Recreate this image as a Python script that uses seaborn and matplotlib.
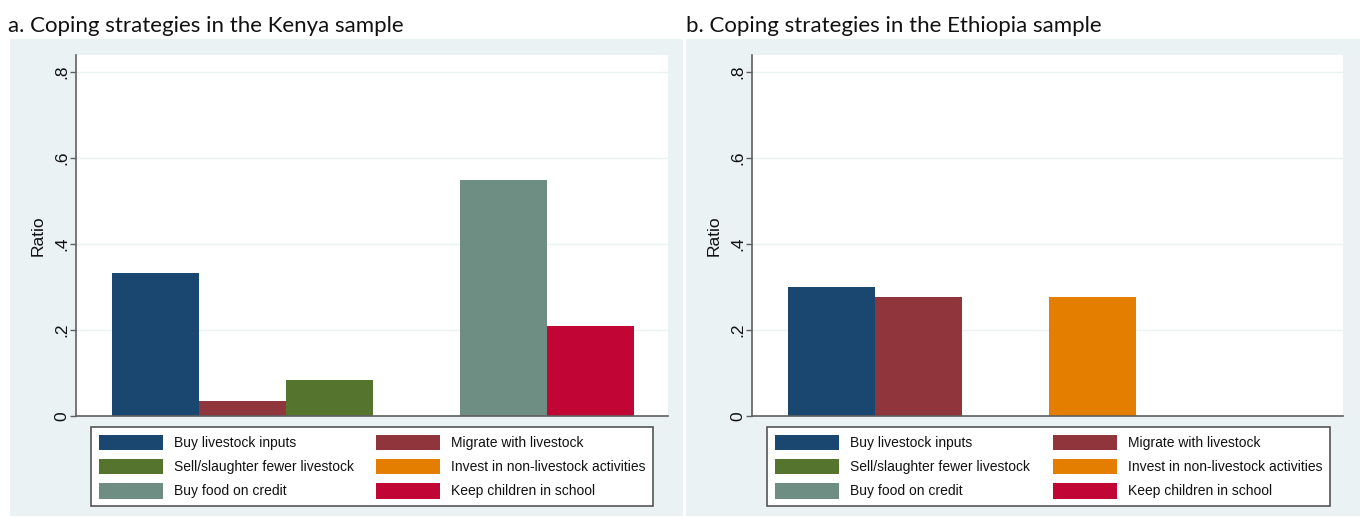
import matplotlib
matplotlib.use("Agg")
import matplotlib.pyplot as plt
from matplotlib.patches import Rectangle, Patch
import seaborn as sns
import pandas as pd

# ---------------- data ----------------
strategies = [
    "Buy livestock inputs",
    "Migrate with livestock",
    "Sell/slaughter fewer livestock",
    "Invest in non-livestock activities",
    "Buy food on credit",
    "Keep children in school",
]
kenya_ratio = [0.333, 0.035, 0.084, 0.0, 0.549, 0.209]
ethiopia_ratio = [0.300, 0.276, 0.0, 0.276, 0.0, 0.0]
colors = ["#1a476f", "#90353b", "#55752f", "#e37e00", "#6e8e84", "#c10534"]
ytick_values = [0, 0.2, 0.4, 0.6, 0.8]
ytick_labels = ["0", ".2", ".4", ".6", ".8"]
titles = ["a. Coping strategies in the Kenya sample",
          "b. Coping strategies in the Ethiopia sample"]
ylabel = "Ratio"

# ---------------- layout ----------------
W, H = 1362, 517
sns.set_theme(style="white")
plt.rcParams["font.family"] = ["Liberation Sans", "DejaVu Sans"]

fig = plt.figure(figsize=(W / 100, H / 100), dpi=100)
fig.patch.set_facecolor("white")

def fx(px):
    return px / W

def fy(py):
    return 1 - py / H

BG = "#eaf2f3"
AXC = "#5f5f5f"

panels = [
    dict(bg=(10, 39, 683, 516), ax=(76, 55, 668, 416), leg=(91, 427, 653, 506), title_x=8),
    dict(bg=(686, 39, 1360, 516), ax=(752, 55, 1343, 416), leg=(767, 427, 1330, 506), title_x=686),
]
datasets = [kenya_ratio, ethiopia_ratio]

for p, vals, title in zip(panels, datasets, titles):
    x0, y0, x1, y1 = p["bg"]
    fig.patches.append(Rectangle((fx(x0), fy(y1)), fx(x1 - x0), (y1 - y0) / H,
                                 transform=fig.transFigure, facecolor=BG,
                                 edgecolor="none", zorder=-5))
    fig.text(fx(p["title_x"]), fy(26), title, family=["Lato", "DejaVu Sans"],
             fontsize=16, ha="left", va="center", color="#111111")

    ax0, ay0, ax1, ay1 = p["ax"]
    ax = fig.add_axes([fx(ax0), fy(ay1), fx(ax1 - ax0), (ay1 - ay0) / H])
    ax.set_zorder(1)
    ax.set_facecolor("white")
    df = pd.DataFrame({"strategy": strategies, "ratio": vals})
    sns.barplot(data=df, x="strategy", y="ratio", hue="strategy",
                order=strategies, hue_order=strategies, palette=colors,
                width=1.0, dodge=False, legend=False, saturation=1,
                linewidth=0, ax=ax)
    ax.set_xlim(-0.914, 5.885)
    ax.set_ylim(0, (ay1 - ay0) / 430)
    ax.set_xticks([])
    ax.set_xlabel("")
    ax.set_yticks(ytick_values)
    ax.set_yticklabels(ytick_labels, rotation=90, va="center", fontsize=12.5,
                       color="#111111")
    ax.tick_params(axis="y", direction="out", length=4, width=1, color=AXC,
                   pad=1, left=True)
    ax.set_ylabel(ylabel, fontsize=12.5, color="#111111")
    ax.yaxis.set_label_coords(-30 / (ax1 - ax0), 0.5)
    ax.yaxis.grid(True, color=BG, linewidth=1)
    ax.set_axisbelow(True)
    for s in ["top", "right"]:
        ax.spines[s].set_visible(False)
    for s in ["left", "bottom"]:
        ax.spines[s].set_color(AXC)
        ax.spines[s].set_linewidth(1.2)

    # legend (row-major like Stata: reorder for matplotlib's column-major fill)
    order = [0, 2, 4, 1, 3, 5]
    handles = [Patch(facecolor=colors[i], edgecolor="none") for i in order]
    labels = [strategies[i] for i in order]
    lx0, ly0, lx1, ly1 = p["leg"]
    leg = fig.legend(handles, labels, ncol=2, loc="upper left",
                     bbox_to_anchor=(fx(lx0), fy(ly1), fx(lx1 - lx0), (ly1 - ly0) / H),
                     bbox_transform=fig.transFigure, mode="expand",
                     borderaxespad=0, fontsize=10, frameon=True, fancybox=False,
                     framealpha=1, edgecolor="#555555", borderpad=0.55,
                     handlelength=4.6, handleheight=1.35, handletextpad=0.8,
                     labelspacing=0.62, columnspacing=1.5)
    leg.get_frame().set_linewidth(1.2)
    leg.get_frame().set_facecolor("white")
    leg.set_zorder(2)
    for t in leg.get_texts():
        t.set_color("#111111")

fig.savefig("out.png", dpi=100, facecolor="white")
